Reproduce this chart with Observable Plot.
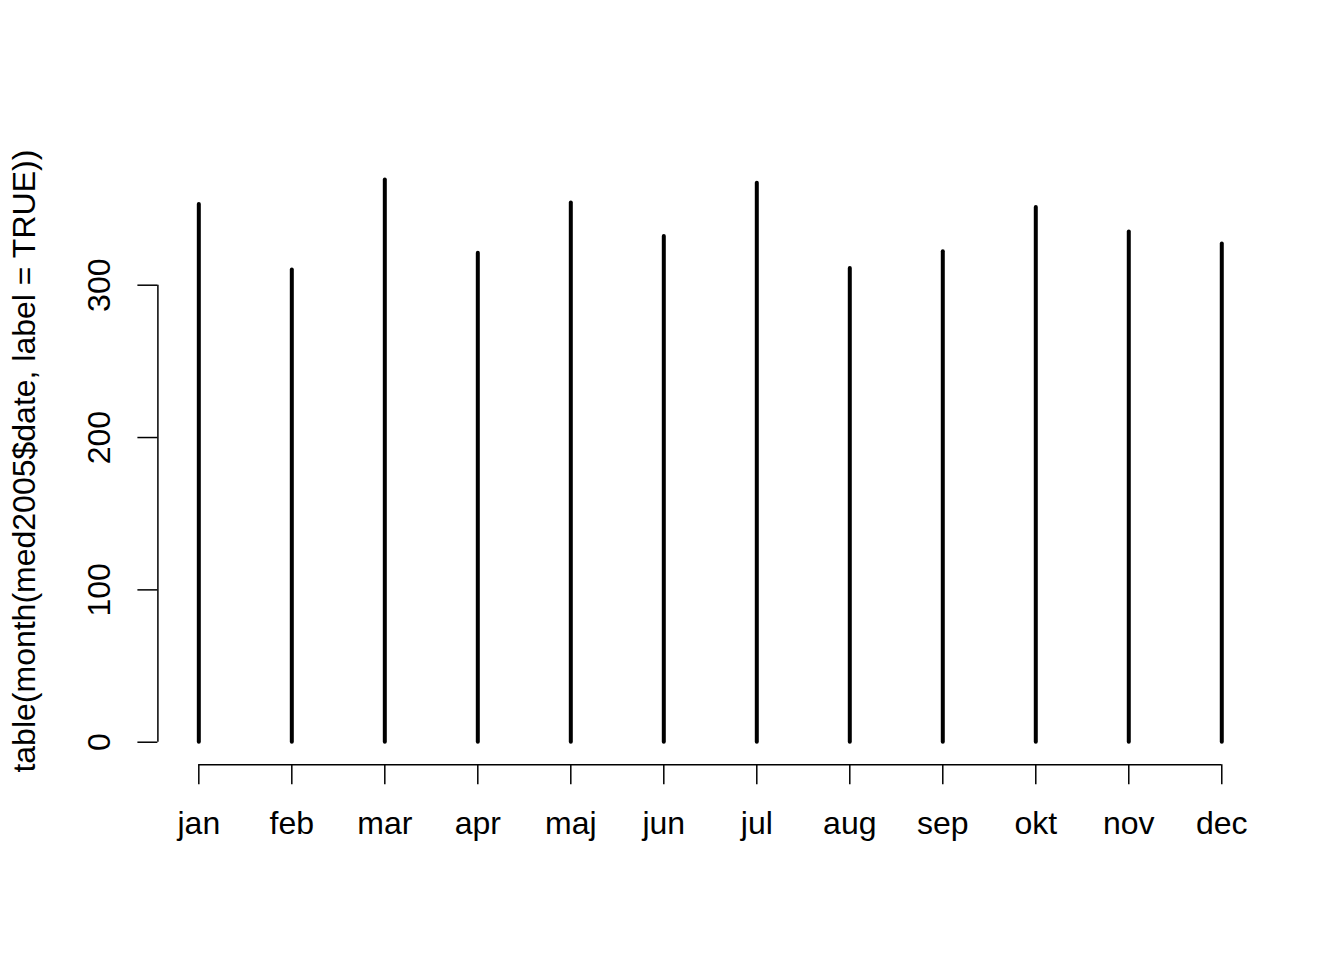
<!DOCTYPE html>
<html>
<head>
<meta charset="utf-8">
<script src="https://cdn.jsdelivr.net/npm/d3@7"></script>
<script src="https://cdn.jsdelivr.net/npm/@observablehq/plot@0.6"></script>
<style>
  html, body { margin: 0; padding: 0; background: #fff; }
  #chart svg { display: block; }
</style>
</head>
<body>
<div id="chart"></div>
<script>
const months = ["jan", "feb", "mar", "apr", "maj", "jun", "jul", "aug", "sep", "okt", "nov", "dec"];
const counts = [353, 310, 369, 321, 354, 332, 367, 311, 322, 351, 335, 327];
const yTicks = [0, 100, 200, 300];
const yTitle = "table(month(med2005$date, label = TRUE))";

const data = months.map((m, i) => ({month: m, idx: i + 1, n: counts[i]}));
const ymax = d3.max(counts);
const yDomain = [-0.04 * ymax, ymax * 1.04];
const xDomain = [1 - 0.04 * 11, 12 + 0.04 * 11];
const font = "'Liberation Sans', Arial, Helvetica, sans-serif";

const chart = Plot.plot({
  width: 1344,
  height: 960,
  marginLeft: 157.4,
  marginRight: 81.8,
  marginTop: 157.1,
  marginBottom: 195.8,
  style: {fontFamily: font, fontSize: "32px", color: "black", background: "white"},
  x: {type: "linear", domain: xDomain},
  y: {type: "linear", domain: yDomain},
  marks: [
    Plot.ruleX(data, {x: "idx", y1: 0, y2: "n", stroke: "black", strokeWidth: 4, strokeLinecap: "round"}),
    // axis lines
    Plot.ruleY([yDomain[0]], {x1: 1, x2: months.length, stroke: "black", strokeWidth: 1.5}),
    Plot.ruleX([xDomain[0]], {y1: yTicks[0], y2: yTicks[yTicks.length - 1], stroke: "black", strokeWidth: 1.5}),
    // ticks
    Plot.axisX(data.map(d => d.idx), {anchor: "bottom", tickSize: 20, tickFormat: () => "", label: null, strokeWidth: 1.5, stroke: "black"}),
    Plot.axisY(yTicks, {anchor: "left", tickSize: 20, tickFormat: () => "", label: null, strokeWidth: 1.5, stroke: "black"}),
    // tick labels
    Plot.text(data, {x: "idx", text: "month", frameAnchor: "bottom", dy: 68.8, lineAnchor: "bottom", textAnchor: "middle", fontSize: 32, fill: "black"}),
    Plot.text(yTicks, {y: d => d, text: d => String(d), frameAnchor: "left", rotate: -90, dx: -47.4, lineAnchor: "bottom", textAnchor: "middle", fontSize: 32, fill: "black"}),
    // y title
    Plot.text([yTitle], {frameAnchor: "left", rotate: -90, dx: -122.4, lineAnchor: "bottom", textAnchor: "middle", fontSize: 32, fill: "black"})
  ]
});
document.getElementById("chart").appendChild(chart);
</script>
</body>
</html>
